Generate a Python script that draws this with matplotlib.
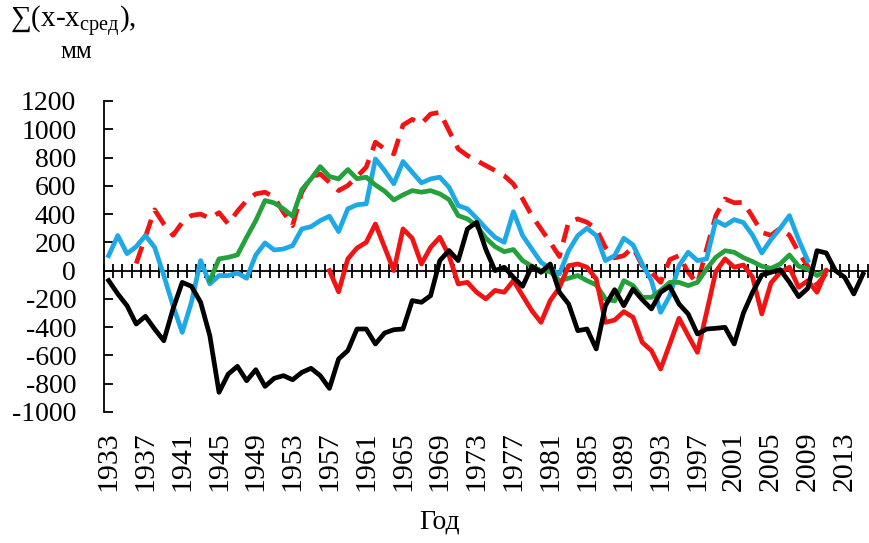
import matplotlib
matplotlib.use("Agg")
import matplotlib.pyplot as plt
import numpy as np

plt.rcParams['font.family'] = ['Liberation Serif', 'DejaVu Serif']
plt.rcParams['mathtext.fontset'] = 'custom'
plt.rcParams['mathtext.rm'] = 'Liberation Serif'
plt.rcParams['axes.unicode_minus'] = False

years = np.arange(1933, 2016)

# cumulative deviations, mm (each series starts at its own year)
black_start = 1933
black = [-70, -165, -248, -378, -323, -413, -496, -271, -83, -111,
         -224, -460, -861, -732, -677, -779, -701, -819, -762, -743,
         -772, -720, -691, -743, -833, -625, -566, -413, -413, -519,
         -441, -418, -413, -212, -224, -177, 71, 142, 71, 295,
         342, 150, 0, 24, -47, -111, 31, -12, 47, -153,
         -236, -425, -413, -554, -248, -135, -248, -130, -205, -271,
         -153, -111, -236, -307, -448, -413, -408, -401, -519, -300,
         -153, -31, -12, 7, -82, -184, -125, 141, 125, 0,
         -47, -165, -24]

blue_start = 1933
blue = [106, 248, 120, 170, 248, 165, -35, -248, -437, -224,
        71, -94, -35, -35, -17, -54, 111, 196, 146, 153,
        177, 295, 311, 354, 385, 276, 437, 466, 472, 790,
        708, 614, 772, 696, 621, 649, 661, 590, 460, 437,
        371, 300, 236, 200, 417, 248, 153, 59, 12, -24,
        141, 248, 300, 248, 71, 106, 229, 182, 47, -71,
        -295, -177, 35, 130, 71, 83, 354, 319, 361, 340,
        250, 125, 220, 300, 389, 220, 71]

green_start = 1944
green = [-70, 83, 94, 111, 236, 354, 496, 479, 437,
         385, 573, 649, 736, 666, 649, 715, 650, 661, 606,
         562, 500, 536, 566, 555, 566, 543, 503, 389, 366,
         318, 230, 170, 134, 149, 71, 31, 0, -7, -71,
         -54, -35, -71, -101, -200, -215, -71, -106, -189, -189,
         -141, -83, -83, -106, -83, 12, 94, 141, 130, 92,
         64, 31, 16, 47, 111, 31, 12, -35, 0]

red_start = 1957
red = [0, -150, 83, 160, 200, 330,
       165, 0, 295, 229, 47, 165, 236, 106, -94, -83,
       -153, -200, -140, -153, -71, -177, -283, -366, -212, -120,
       35, 47, 24, -59, -366, -350, -290, -330, -507, -566,
       -696, -519, -337, -460, -578, -295, -7, 83, 24, 40,
       -47, -306, -87, -12, 24, -118, -71, -153, 0]

red_dash_start = 1936
red_dash = [50, 240, 430, 330, 250, 340, 390,
            400, 370, 410, 330, 420, 496, 543, 555, 519, 413,
            318, 555, 661, 684, 625, 566, 602, 665, 732, 909,
            861, 826, 1030, 1070, 1040, 1108, 1120, 990, 861, 814,
            779, 743, 708, 672, 613, 507, 389, 295, 200, 100,
            345, 366, 342, 295, 165, 90, 106, 165, 35, -12,
            -83, 78, 106, -12, -94, 153, 389, 507, 480, 483,
            380, 270, 250, 300, 250, 130, 30, -100, -20]

label_years = years[::4]


def span(start, vals):
    return np.arange(start, start + len(vals))


fig = plt.figure(figsize=(8.69, 5.43), dpi=100)
ax = fig.add_axes([0.1197, 0.2413, 0.8787, 0.5727])

lw = 3.4
ax.plot(span(red_dash_start, red_dash), red_dash, color='#f01414', lw=lw,
        dashes=(3.8, 2.2), dash_capstyle='butt', zorder=2)
ax.plot(span(blue_start, blue), blue, color='#1ea8e6', lw=lw, zorder=3)
ax.plot(span(green_start, green), green, color='#24a03c', lw=lw, zorder=4)
ax.plot(span(red_start, red), red, color='#f01414', lw=lw, zorder=5)
ax.plot(span(black_start, black), black, color='black', lw=lw, zorder=6)

ax.set_xlim(years[0] - 0.5, years[-1] + 0.5)
ax.set_ylim(-1000, 1200)

for s in ('top', 'right'):
    ax.spines[s].set_visible(False)
ax.spines['bottom'].set_position(('data', 0))
ax.spines['bottom'].set_linewidth(1.3)
ax.spines['left'].set_linewidth(1.3)

# year tick marks crossing the zero line, between categories
ax.set_xticks(np.arange(years[0] - 0.5, years[-1] + 1, 1))
ax.tick_params(axis='x', direction='inout', length=10, width=1.3,
               labelbottom=False)

ax.set_yticks(np.arange(-1000, 1201, 200))
ax.tick_params(axis='y', direction='in', length=6.5, width=1.3,
               labelsize=20, pad=20)

# year labels along the bottom of the plot
sec = ax.secondary_xaxis('bottom')
sec.set_xticks(label_years, labels=[str(y) for y in label_years])
sec.tick_params(length=0, pad=14, labelsize=21.5, labelrotation=90)
sec.spines['bottom'].set_visible(False)

fig.text(10 / 869, 1 - 27 / 543, '∑(x-x$_{\\mathrm{сред}}$),', fontsize=21,
         ha='left', va='baseline')
fig.text(76 / 869, 1 - 52 / 543, 'мм', fontsize=18, ha='center', va='center')
fig.text(440 / 869, 1 - 522 / 543, 'Год', fontsize=20, ha='center',
         va='center')

fig.savefig('out.png', dpi=100)
